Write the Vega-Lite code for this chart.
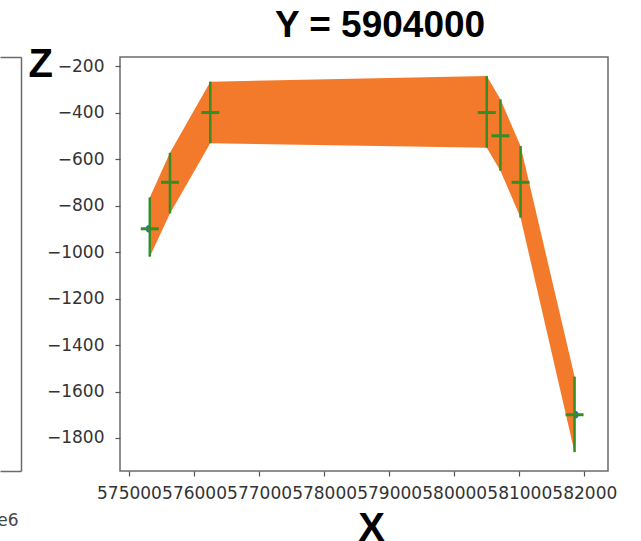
{
  "$schema": "https://vega.github.io/schema/vega-lite/v6.json",
  "autosize": {"type": "none"},
  "padding": {"left": 0, "top": 57, "right": 641, "bottom": 484},
  "background": "white",
  "bounds": "flush",
  "spacing": 99,
  "config": {
    "view": {"stroke": null},
    "axis": {"grid": false}
  },
  "hconcat": [
    {
      "width": 21,
      "height": 414,
      "data": {"values": [{"u": 0, "v": 0}, {"u": 1, "v": 1}]},
      "layer": [
        {
          "mark": {"type": "point", "opacity": 0},
          "encoding": {
            "x": {
              "field": "u", "type": "quantitative",
              "scale": {"domain": [0, 1], "nice": false},
              "axis": {
                "orient": "bottom", "domainColor": "#6b6b6b", "domainWidth": 1.5,
                "ticks": false, "labels": false, "grid": false,
                "title": "1e6", "titleFont": "DejaVu Sans", "titleFontSize": 17,
                "titleFontWeight": "normal", "titleColor": "#444",
                "titleAlign": "right", "titleBaseline": "alphabetic",
                "titleX": 18, "titleY": 54
              }
            },
            "y": {
              "field": "v", "type": "quantitative",
              "scale": {"domain": [0, 1], "nice": false},
              "axis": {
                "orient": "right", "domainColor": "#6b6b6b", "domainWidth": 1.5,
                "ticks": false, "labels": false, "grid": false, "title": null
              }
            }
          }
        },
        {
          "mark": {"type": "point", "opacity": 0},
          "encoding": {
            "x": {
              "field": "u", "type": "quantitative",
              "scale": {"domain": [0, 1], "nice": false},
              "axis": {
                "orient": "top", "domainColor": "#6b6b6b", "domainWidth": 1.5,
                "ticks": false, "labels": false, "grid": false, "title": null
              }
            }
          }
        }
      ],
      "resolve": {"axis": {"x": "independent"}}
    },
    {
      "width": 488,
      "height": 414,
      "view": {"stroke": "#6b6b6b", "strokeWidth": 1.5},
      "title": {
        "text": "Y = 5904000",
        "font": "Liberation Sans",
        "fontSize": 37,
        "fontWeight": "bold",
        "color": "#000000",
        "anchor": "middle",
        "frame": "group",
        "baseline": "alphabetic",
        "offset": -30,
        "dx": 16
      },
      "data": {
        "values": [
          {"x": 575320, "z": -900, "hi": -765, "lo": -1020},
          {"x": 575630, "z": -700, "hi": -573, "lo": -834},
          {"x": 576250, "z": -400, "hi": -267, "lo": -532},
          {"x": 580500, "z": -400, "hi": -243, "lo": -551},
          {"x": 580710, "z": -500, "hi": -343, "lo": -650},
          {"x": 581020, "z": -700, "hi": -544, "lo": -852},
          {"x": 581850, "z": -1700, "hi": -1536, "lo": -1861}
        ]
      },
      "encoding": {
        "x": {
          "field": "x", "type": "quantitative",
          "scale": {"domain": [574862, 582364], "nice": false, "zero": false},
          "axis": {
            "values": [575000, 576000, 577000, 578000, 579000, 580000, 581000, 582000],
            "format": "d", "labelOverlap": false, "labelFlush": false,
            "domain": false, "tickSize": 5, "tickColor": "#555555", "tickWidth": 1.2,
            "labelFont": "DejaVu Sans", "labelFontSize": 17, "labelColor": "#333333",
            "labelPadding": 9,
            "title": "X", "titleFont": "Liberation Sans", "titleFontSize": 40,
            "titleFontWeight": "bold", "titleColor": "#000000",
            "titleAlign": "center", "titleBaseline": "alphabetic",
            "titleX": 251, "titleY": 69
          }
        }
      },
      "layer": [
        {
          "mark": {"type": "point", "filled": true, "shape": "circle", "size": 64, "color": "#1f77b4", "opacity": 1},
          "encoding": {
            "y": {
              "field": "z", "type": "quantitative",
              "scale": {"domain": [-1942, -161], "nice": false, "zero": false},
              "axis": {
                "values": [-200, -400, -600, -800, -1000, -1200, -1400, -1600, -1800],
                "format": "d", "domain": false, "tickSize": 5, "tickColor": "#555555", "tickWidth": 1.2,
                "labelFont": "DejaVu Sans", "labelFontSize": 17, "labelColor": "#333333",
                "labelPadding": 11,
                "title": "Z", "titleFont": "Liberation Sans", "titleFontSize": 40,
                "titleFontWeight": "bold", "titleColor": "#000000", "titleAngle": 0,
                "titleAlign": "left", "titleBaseline": "alphabetic",
                "titleX": -92, "titleY": 19
              }
            }
          }
        },
        {
          "mark": {"type": "area", "color": "#f47a2b", "opacity": 1},
          "encoding": {
            "y": {"field": "hi", "type": "quantitative"},
            "y2": {"field": "lo"}
          }
        },
        {
          "mark": {"type": "rule", "color": "#358d23", "strokeWidth": 2.5},
          "encoding": {
            "y": {"field": "hi", "type": "quantitative"},
            "y2": {"field": "lo"}
          }
        },
        {
          "mark": {"type": "point", "shape": "M-1,0H1", "size": 324, "stroke": "#358d23", "strokeWidth": 3, "filled": false, "opacity": 1},
          "encoding": {
            "y": {"field": "z", "type": "quantitative"}
          }
        }
      ]
    }
  ]
}
